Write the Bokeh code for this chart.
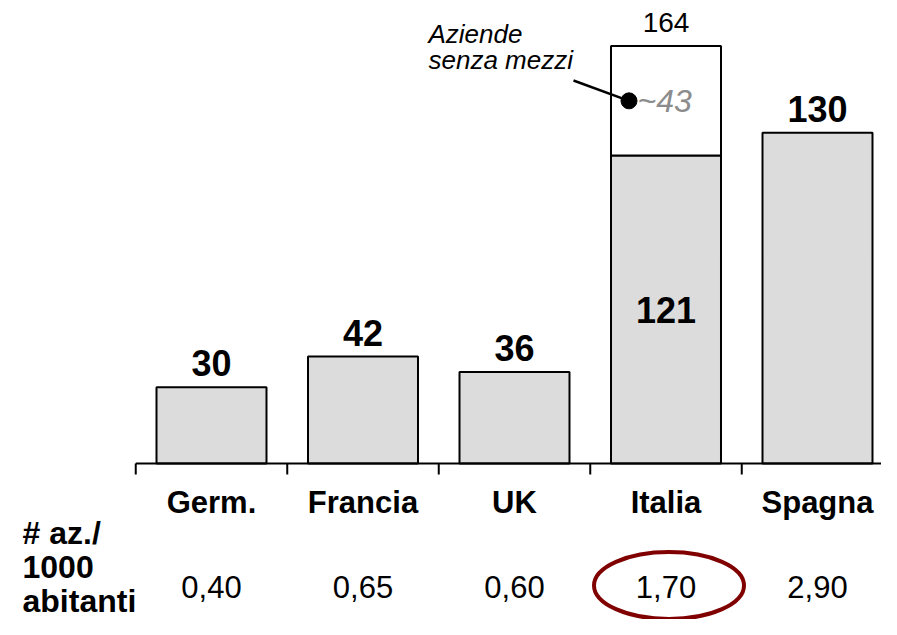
from bokeh.plotting import figure
from bokeh.models import Range1d
from bokeh.core.properties import value
from bokeh.embed import file_html
from bokeh.resources import INLINE

# ---------------- data ----------------
categories = ["Germ.", "Francia", "UK", "Italia", "Spagna"]
base_values = [30, 42, 36, 121, 130]          # aziende (grey bars)
no_vehicle = [0, 0, 0, 43, 0]                 # aziende senza mezzi (white segment)
density = ["0,40", "0,65", "0,60", "1,70", "2,90"]   # # az./1000 abitanti
row_label = ["# az./", "1000", "abitanti"]
annotation = ["Aziende", "senza mezzi"]
highlight = "Italia"

# ---------------- layout ----------------
W, H = 881, 619
PX_PER_CAT = 151.5        # horizontal pixels per category
X0_PX = 211               # canvas x of first category centre
AXIS_PX = 463             # canvas y of the baseline
PX_PER_UNIT = 2.545       # vertical pixels per value unit
BAR_W = 0.726
FONT = value("Liberation Sans")


def px_to_x(px):
    return (px - X0_PX) / PX_PER_CAT


def px_to_y(px):
    return (AXIS_PX - px) / PX_PER_UNIT


p = figure(width=W, height=H,
           x_range=Range1d(px_to_x(0), px_to_x(W)),
           y_range=Range1d(px_to_y(H), px_to_y(0)),
           output_backend="svg", toolbar_location=None,
           x_axis_type=None, y_axis_type=None,
           min_border=0, outline_line_color=None)
p.grid.visible = False
p.background_fill_color = "white"
p.border_fill_color = "white"

xs = list(range(len(categories)))
idx = categories.index(highlight)
totals = [b + n for b, n in zip(base_values, no_vehicle)]

# bars
p.vbar(x=xs, bottom=0, top=base_values, width=BAR_W,
       fill_color="#dcdcdc", line_color="black", line_width=2)
stk = [i for i in xs if no_vehicle[i] > 0]
p.vbar(x=stk, bottom=[base_values[i] for i in stk], top=[totals[i] for i in stk],
       width=BAR_W, fill_color="white", line_color="black", line_width=2)

# baseline axis with boundary ticks
p.segment(x0=[-0.5], y0=[0], x1=[len(categories) - 0.5], y1=[0],
          line_color="black", line_width=2)
bounds = [i - 0.5 for i in range(len(categories) + 1)]
p.segment(x0=bounds, y0=[0] * len(bounds), x1=bounds,
          y1=[-11 / PX_PER_UNIT] * len(bounds), line_color="black", line_width=2)

# value labels above bars (simple bars)
out = [i for i in xs if no_vehicle[i] == 0]
p.text(x=out, y=[base_values[i] for i in out], text=[str(base_values[i]) for i in out],
       y_offset=-24, text_font=FONT, text_font_style="bold", text_font_size="36px",
       text_align="center", text_baseline="middle", text_color="black")
# inside label for stacked bar
p.text(x=stk, y=[base_values[i] / 2 for i in stk], text=[str(base_values[i]) for i in stk],
       text_font=FONT, text_font_style="bold", text_font_size="36px",
       text_align="center", text_baseline="middle", text_color="black")
# total above stacked bar
p.text(x=stk, y=[totals[i] for i in stk], text=[str(totals[i]) for i in stk],
       y_offset=-24, text_font=FONT, text_font_style="normal", text_font_size="28px",
       text_align="center", text_baseline="middle", text_color="black")

# annotation for white segment
mid = [(base_values[i] + totals[i]) / 2 for i in stk]
dot_x = [i - BAR_W / 2 + 18 / PX_PER_CAT for i in stk]
p.segment(x0=[px_to_x(573)], y0=[px_to_y(80)], x1=dot_x, y1=mid,
          line_color="black", line_width=2.5)
p.scatter(x=dot_x, y=mid, size=16, fill_color="black", line_color="black")
p.text(x=[px_to_x(637)] * len(stk), y=mid, text=["~" + str(no_vehicle[i]) for i in stk],
       text_font=FONT, text_font_style="italic", text_font_size="32px",
       text_align="left", text_baseline="middle", text_color="#8c8c8c")
p.text(x=[px_to_x(428)] * 2, y=[px_to_y(33), px_to_y(59)], text=annotation,
       text_font=FONT, text_font_style="italic", text_font_size="26px",
       text_align="left", text_baseline="middle", text_color="black")

# category labels
p.text(x=xs, y=[px_to_y(502)] * len(xs), text=categories,
       text_font=FONT, text_font_style="bold", text_font_size="31px",
       text_align="center", text_baseline="middle", text_color="black")

# density row
p.text(x=xs, y=[px_to_y(586)] * len(xs), text=density,
       text_font=FONT, text_font_style="normal", text_font_size="31px",
       text_align="center", text_baseline="middle", text_color="black")
p.text(x=[px_to_x(22)] * 3, y=[px_to_y(532), px_to_y(566), px_to_y(600)], text=row_label,
       text_font=FONT, text_font_style="bold", text_font_size="32px",
       text_align="left", text_baseline="middle", text_color="black")

# highlight ellipse
p.ellipse(x=[idx + 3 / PX_PER_CAT], y=[px_to_y(585)], width=150, height=67,
          width_units="screen", height_units="screen",
          fill_color=None, line_color="#800000", line_width=4)

open("out.html", "w").write(file_html(p, INLINE))
